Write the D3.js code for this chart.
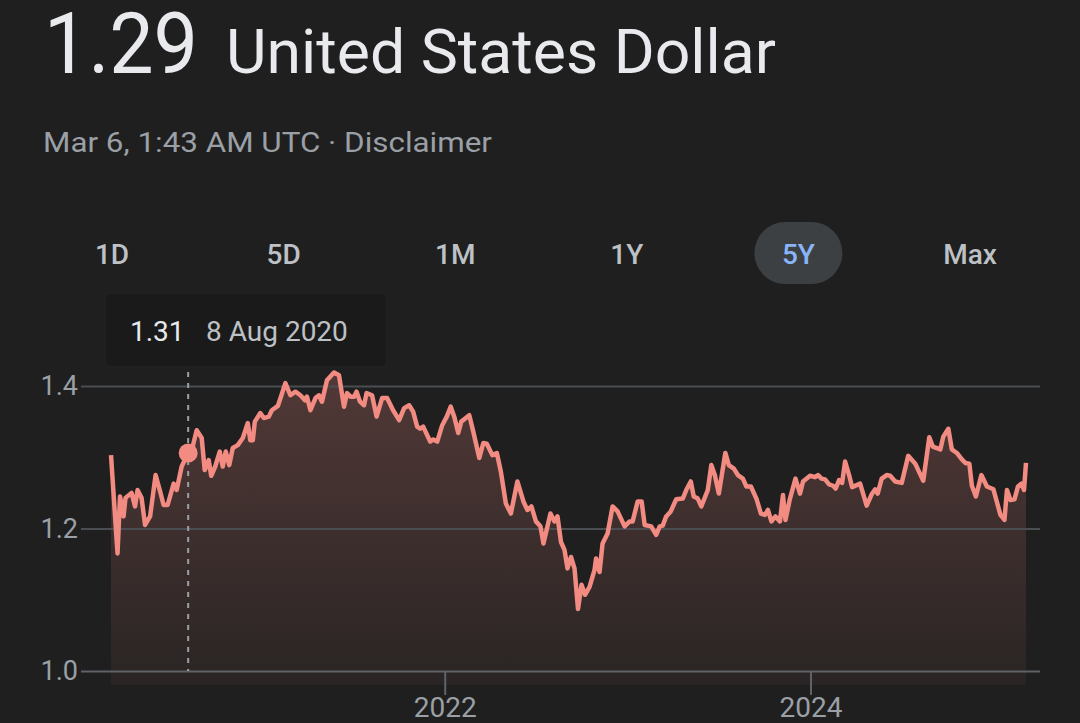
<!DOCTYPE html>
<html>
<head>
<meta charset="utf-8">
<script src="https://cdnjs.cloudflare.com/ajax/libs/d3/7.8.5/d3.min.js"></script>
<style>
  html, body { margin: 0; padding: 0; background: #1f1f1f; }
  body { font-family: Roboto, 'Noto Sans', sans-serif; }
  svg { display: block; }
</style>
</head>
<body>
<svg id="chart" width="1080" height="723"></svg>
<script>
// ---- data ----
var price = "1.29";
var currency = "United States Dollar";
var stamp = "Mar 6, 1:43 AM UTC \u00b7 Disclaimer";
var ranges = ["1D", "5D", "1M", "1Y", "5Y", "Max"];
var activeRange = "5Y";
var yTicks = [1.0, 1.2, 1.4];
var xTicks = ["2022-01-01", "2024-01-01"];
var hover = { date: "2020-08-07", value: "1.31", label: "8 Aug 2020" };

var dates = [
  "2020-03-06","2020-03-19","2020-03-24","2020-03-31","2020-04-04","2020-04-16","2020-04-23","2020-04-28","2020-05-06","2020-05-13",
  "2020-05-23","2020-06-03","2020-06-12","2020-06-19","2020-06-27","2020-07-09","2020-07-15","2020-07-25","2020-08-07","2020-08-16",
  "2020-08-24","2020-09-03","2020-09-09","2020-09-17","2020-09-22","2020-09-30","2020-10-09","2020-10-15","2020-10-21","2020-10-28",
  "2020-11-04","2020-11-14","2020-11-24","2020-12-04","2020-12-09","2020-12-14","2020-12-18","2020-12-29",
  "2021-01-05","2021-01-15","2021-01-21","2021-02-02","2021-02-17","2021-02-27","2021-03-09","2021-03-19","2021-03-28","2021-04-01",
  "2021-04-08","2021-04-18","2021-04-25","2021-05-01","2021-05-11","2021-05-25","2021-06-04","2021-06-14","2021-06-20","2021-06-27",
  "2021-07-04","2021-07-09","2021-07-16","2021-07-24","2021-07-29","2021-08-09","2021-08-18","2021-08-29","2021-09-08","2021-09-20",
  "2021-10-02","2021-10-12","2021-10-22","2021-10-30","2021-11-07","2021-11-13","2021-11-19","2021-12-03","2021-12-09","2021-12-17",
  "2021-12-27",
  "2022-01-05","2022-01-13","2022-01-20","2022-01-28","2022-02-03","2022-02-19","2022-02-27","2022-03-11","2022-03-19","2022-03-26",
  "2022-04-06","2022-04-15","2022-04-23","2022-05-03","2022-05-13","2022-05-26","2022-06-07","2022-06-15","2022-06-23","2022-07-02",
  "2022-07-11","2022-07-17","2022-07-31","2022-08-08","2022-08-14","2022-08-21","2022-08-28","2022-09-03","2022-09-10","2022-09-17",
  "2022-09-24","2022-10-01","2022-10-08","2022-10-17","2022-10-27","2022-10-30","2022-11-06","2022-11-12","2022-11-22","2022-12-02",
  "2022-12-12","2022-12-26",
  "2023-01-05","2023-01-11","2023-01-21","2023-01-29","2023-02-04","2023-02-17","2023-02-27","2023-03-06","2023-03-12","2023-03-19",
  "2023-03-28","2023-04-08","2023-04-21","2023-04-28","2023-05-07","2023-05-13","2023-05-21","2023-05-28","2023-06-10","2023-06-17",
  "2023-06-24","2023-07-02","2023-07-15","2023-07-22","2023-08-01","2023-08-09","2023-08-19","2023-08-26","2023-09-04","2023-09-15",
  "2023-09-24","2023-10-02","2023-10-08","2023-10-15","2023-10-23","2023-11-01","2023-11-07","2023-11-12","2023-11-21","2023-12-02",
  "2023-12-11","2023-12-17","2023-12-31",
  "2024-01-10","2024-01-16","2024-01-23","2024-01-30","2024-02-07","2024-02-15","2024-02-20","2024-02-27","2024-03-04","2024-03-10",
  "2024-03-18","2024-03-24","2024-04-09","2024-04-22","2024-05-02","2024-05-09","2024-05-14","2024-05-22","2024-06-01","2024-06-08",
  "2024-06-18","2024-07-01","2024-07-14","2024-07-28","2024-08-13","2024-08-25","2024-09-01","2024-09-16","2024-09-22","2024-10-02",
  "2024-10-09","2024-10-19","2024-10-29","2024-11-05","2024-11-13","2024-11-18","2024-11-26","2024-12-07","2024-12-18","2024-12-31",
  "2025-01-14","2025-01-22","2025-01-27","2025-02-03","2025-02-11","2025-02-18","2025-02-25","2025-03-02","2025-03-06"
];

var rates = [
  1.303,1.165,1.245,1.217,1.243,1.250,1.231,1.254,1.243,1.205,
  1.217,1.275,1.252,1.233,1.233,1.263,1.254,1.287,1.306,1.315,
  1.338,1.327,1.282,1.296,1.274,1.287,1.308,1.287,1.308,1.289,
  1.313,1.317,1.327,1.348,1.324,1.324,1.350,1.362,
  1.355,1.357,1.366,1.372,1.404,1.387,1.392,1.387,1.380,1.385,
  1.366,1.383,1.387,1.378,1.408,1.419,1.415,1.371,1.390,1.385,
  1.385,1.392,1.378,1.373,1.390,1.387,1.357,1.383,1.383,1.366,
  1.352,1.369,1.373,1.364,1.343,1.340,1.343,1.322,1.325,1.322,
  1.345,
  1.357,1.371,1.357,1.334,1.350,1.359,1.336,1.299,1.320,1.319,
  1.303,1.306,1.280,1.235,1.221,1.266,1.238,1.226,1.231,1.210,
  1.203,1.179,1.221,1.210,1.217,1.181,1.170,1.144,1.160,1.144,
  1.087,1.121,1.107,1.118,1.142,1.158,1.139,1.179,1.193,1.231,
  1.224,1.203,
  1.210,1.210,1.238,1.238,1.205,1.203,1.191,1.203,1.204,1.217,
  1.224,1.241,1.242,1.254,1.266,1.245,1.242,1.231,1.254,1.289,
  1.275,1.249,1.306,1.289,1.284,1.275,1.270,1.259,1.259,1.242,
  1.221,1.219,1.226,1.210,1.217,1.210,1.247,1.212,1.242,1.270,
  1.249,1.266,1.274,
  1.272,1.275,1.270,1.269,1.262,1.260,1.256,1.268,1.264,1.294,
  1.275,1.258,1.263,1.232,1.248,1.255,1.249,1.270,1.275,1.274,
  1.266,1.264,1.302,1.291,1.267,1.328,1.315,1.311,1.329,1.340,
  1.311,1.306,1.297,1.292,1.291,1.260,1.245,1.275,1.259,1.255,
  1.219,1.212,1.254,1.240,1.241,1.259,1.263,1.254,1.292
];

// ---- setup ----
var parse = d3.timeParse("%Y-%m-%d");
var data = dates.map(function (d, i) { return { date: parse(d), value: rates[i] }; });

var svg = d3.select("#chart");
var lineColor = "#f28b82";

// header
svg.append("text")
    .attr("x", 44).attr("y", 73)
    .attr("textLength", 154).attr("lengthAdjust", "spacingAndGlyphs")
    .style("font-size", "86px").style("font-weight", 400)
    .style("fill", "#e8eaed")
    .text(price);

svg.append("text")
    .attr("x", 226).attr("y", 73)
    .attr("textLength", 550).attr("lengthAdjust", "spacingAndGlyphs")
    .style("font-size", "62px").style("font-weight", 400)
    .style("fill", "#e8eaed")
    .text(currency);

svg.append("text")
    .attr("x", 43).attr("y", 152)
    .attr("textLength", 449).attr("lengthAdjust", "spacingAndGlyphs")
    .style("font-size", "28px")
    .style("fill", "#9aa0a6")
    .text(stamp);

// range tabs
var tabX = d3.scalePoint().domain(ranges).range([112, 970]);
var tabs = svg.append("g").selectAll("g")
    .data(ranges)
    .enter().append("g")
    .attr("transform", function (d) { return "translate(" + tabX(d) + ",253)"; });

tabs.filter(function (d) { return d === activeRange; })
    .append("rect")
    .attr("x", -44).attr("y", -31)
    .attr("width", 88).attr("height", 62)
    .attr("rx", 31)
    .style("fill", "#3c4043");

tabs.append("text")
    .attr("text-anchor", "middle")
    .attr("y", 11)
    .style("font-size", "28px").style("font-weight", 500)
    .style("fill", function (d) { return d === activeRange ? "#8ab4f8" : "#bdc1c6"; })
    .text(function (d) { return d; });

// chart scales
var x = d3.scaleTime()
    .domain(d3.extent(data, function (d) { return d.date; }))
    .range([111, 1026]);

var y = d3.scaleLinear()
    .domain([1.0, 1.4])
    .range([671, 386]);

var areaBottom = 685;

// gradient for area
var defs = svg.append("defs");
var grad = defs.append("linearGradient")
    .attr("id", "fillGrad")
    .attr("gradientUnits", "userSpaceOnUse")
    .attr("x1", 0).attr("x2", 0)
    .attr("y1", y(d3.max(rates))).attr("y2", areaBottom);
grad.append("stop").attr("offset", "0%").attr("stop-color", lineColor).attr("stop-opacity", 0.24);
grad.append("stop").attr("offset", "100%").attr("stop-color", lineColor).attr("stop-opacity", 0.05);

var area = d3.area()
    .x(function (d) { return x(d.date); })
    .y0(areaBottom)
    .y1(function (d) { return y(d.value); });

svg.append("path")
    .datum(data)
    .attr("d", area)
    .style("fill", "url(#fillGrad)");

// y grid + labels
var yAxis = svg.append("g")
    .attr("transform", "translate(81,0)")
    .call(d3.axisLeft(y).tickValues(yTicks).tickSize(-959).tickPadding(3).tickFormat(d3.format(".1f")));
yAxis.select(".domain").remove();
yAxis.selectAll("line")
    .style("stroke", function (d) { return d === 1.0 ? "#5f6368" : "#4a4d51"; })
    .style("stroke-width", 2);
yAxis.selectAll("text")
    .style("font-family", "Roboto, sans-serif")
    .style("font-size", "27px")
    .style("fill", "#9aa0a6");

// x axis ticks
var xAxis = svg.append("g")
    .attr("transform", "translate(0,672)")
    .call(d3.axisBottom(x).tickValues(xTicks.map(parse)).tickSize(23).tickPadding(2).tickFormat(d3.timeFormat("%Y")));
xAxis.select(".domain").remove();
xAxis.selectAll("line").style("stroke", "#5f6368").style("stroke-width", 2);
xAxis.selectAll("text")
    .style("font-family", "Roboto, sans-serif")
    .style("font-size", "28px")
    .style("fill", "#9aa0a6");

// hover guide
var hoverPoint = data.find(function (d) { return +d.date === +parse(hover.date); });
var hx = x(hoverPoint.date);

svg.append("line")
    .attr("x1", hx).attr("x2", hx)
    .attr("y1", 372).attr("y2", 671)
    .style("stroke", "#9aa0a6")
    .style("stroke-width", 2)
    .style("stroke-dasharray", "5,6");

// line
var line = d3.line()
    .x(function (d) { return x(d.date); })
    .y(function (d) { return y(d.value); });

svg.append("path")
    .datum(data)
    .attr("d", line)
    .style("fill", "none")
    .style("stroke", lineColor)
    .style("stroke-width", 4.5)
    .style("stroke-linejoin", "round");

svg.append("circle")
    .attr("cx", hx).attr("cy", y(hoverPoint.value))
    .attr("r", 9.5)
    .style("fill", lineColor);

// tooltip
var tip = svg.append("g");
tip.append("rect")
    .attr("x", 105).attr("y", 293)
    .attr("width", 282).attr("height", 74)
    .attr("rx", 6)
    .style("fill", "#1a1a1a")
    .style("stroke", "#242424");
tip.append("text")
    .attr("x", 130).attr("y", 341)
    .style("font-size", "28px")
    .style("fill", "#e8eaed")
    .text(hover.value);
tip.append("text")
    .attr("x", 206).attr("y", 341)
    .style("font-size", "28px")
    .style("fill", "#bdc1c6")
    .text(hover.label);
</script>
</body>
</html>
